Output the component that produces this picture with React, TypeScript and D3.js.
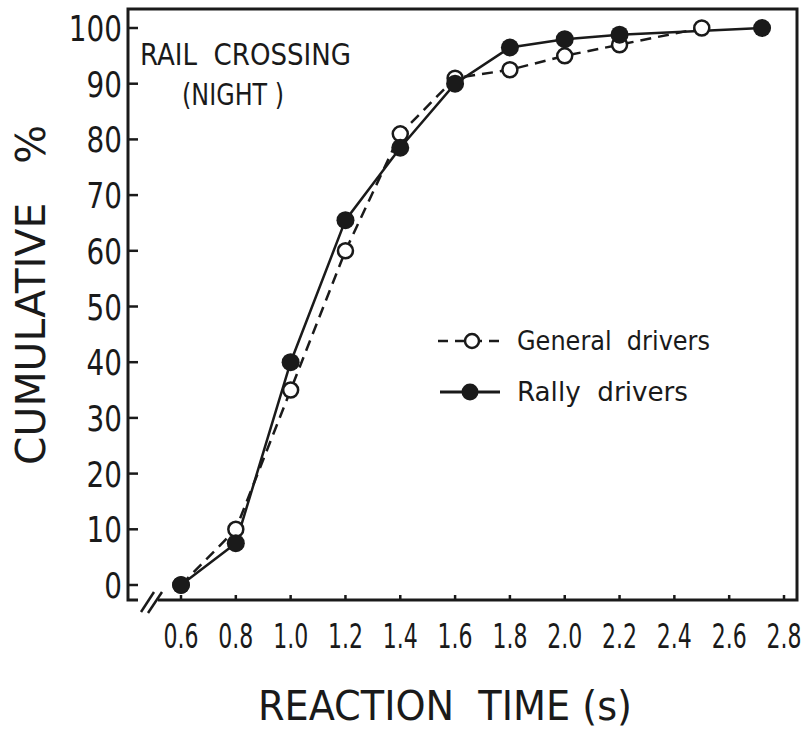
import * as d3 from "d3";
import React from "react";

// reaction time (s) and cumulative %
const generalTime = [0.6, 0.8, 1.0, 1.2, 1.4, 1.6, 1.8, 2.0, 2.2, 2.5];
const generalPct = [0, 10, 35, 60, 81, 91, 92.5, 95, 97, 100];
const rallyTime = [0.6, 0.8, 1.0, 1.2, 1.4, 1.6, 1.8, 2.0, 2.2, 2.72];
const rallyPct = [0, 7.5, 40, 65.5, 78.5, 90, 96.5, 98, 98.8, 100];

const xTicks = [0.6, 0.8, 1.0, 1.2, 1.4, 1.6, 1.8, 2.0, 2.2, 2.4, 2.6, 2.8];
const yTicks = [0, 10, 20, 30, 40, 50, 60, 70, 80, 90, 100];

const W = 802;
const H = 733;
const frame = { left: 128, top: 9, right: 797, bottom: 600 };
const font = "'DejaVu Sans Condensed', 'DejaVu Sans', sans-serif";
const ink = "#1a1a1a";

// narrow lettering: squeeze text horizontally around its anchor
const Narrow = ({ x, y, sx, size, anchor, children }: any) => (
  <text
    transform={`translate(${x},${y}) scale(${sx},1)`}
    textAnchor={anchor || "start"}
    fontSize={size}
    fill={ink}
    style={{ whiteSpace: "pre" }}
  >
    {children}
  </text>
);

export default function App() {
  const x = d3.scaleLinear().domain([0.6, 2.8]).range([181, 784]);
  const y = d3.scaleLinear().domain([0, 100]).range([585, 28]);

  const line = d3
    .line<[number, number]>()
    .x((d) => x(d[0]))
    .y((d) => y(d[1]));

  const general: [number, number][] = generalTime.map((t, i) => [t, generalPct[i]]);
  const rally: [number, number][] = rallyTime.map((t, i) => [t, rallyPct[i]]);

  return (
    <svg
      width={W}
      height={H}
      style={{ position: "absolute", left: 0, top: 0, background: "#fff" }}
      fontFamily={font}
    >
      {/* frame */}
      <rect
        x={frame.left}
        y={frame.top}
        width={frame.right - frame.left}
        height={frame.bottom - frame.top}
        fill="none"
        stroke={ink}
        strokeWidth={3}
      />
      {/* axis break */}
      <rect x={138} y={595} width={20} height={10} fill="#fff" />
      <line x1={141} y1={612} x2={154} y2={592} stroke={ink} strokeWidth={2.5} />
      <line x1={148} y1={613} x2={162} y2={592} stroke={ink} strokeWidth={2.5} />

      {/* y ticks */}
      {yTicks.map((t) => (
        <g key={"y" + t}>
          <line x1={frame.left} x2={frame.left + 10} y1={y(t)} y2={y(t)} stroke={ink} strokeWidth={2.5} />
          <Narrow x={frame.left - 6} y={y(t) + 13} sx={0.86} size={36} anchor="end">
            {t}
          </Narrow>
        </g>
      ))}
      {/* x ticks */}
      {xTicks.map((t) => (
        <g key={"x" + t}>
          <line x1={x(t)} x2={x(t)} y1={frame.bottom} y2={frame.bottom - 5} stroke={ink} strokeWidth={2.5} />
          <Narrow x={x(t)} y={648} sx={0.72} size={34} anchor="middle">
            {t.toFixed(1)}
          </Narrow>
        </g>
      ))}

      {/* axis titles */}
      <text x={258} y={720} fontSize={41} fill={ink} textLength={374} lengthAdjust="spacingAndGlyphs" style={{ whiteSpace: "pre" }}>
        {"REACTION  TIME (s)"}
      </text>
      <text
        transform="translate(45,465) rotate(-90)"
        fontSize={40}
        fill={ink}
        textLength={340}
        lengthAdjust="spacingAndGlyphs"
        style={{ whiteSpace: "pre" }}
      >
        {"CUMULATIVE   %"}
      </text>

      {/* annotation */}
      <text x={140} y={65} fontSize={30} fill={ink} textLength={211} lengthAdjust="spacingAndGlyphs" style={{ whiteSpace: "pre" }}>
        {"RAIL  CROSSING"}
      </text>
      <text x={182} y={105} fontSize={30} fill={ink} textLength={102} lengthAdjust="spacingAndGlyphs" style={{ whiteSpace: "pre" }}>
        {"(NIGHT )"}
      </text>

      {/* series */}
      <path d={line(general) || ""} fill="none" stroke={ink} strokeWidth={2.5} strokeDasharray="11 7" />
      <path d={line(rally) || ""} fill="none" stroke={ink} strokeWidth={2.5} />
      {general.map((d, i) => (
        <circle key={"g" + i} cx={x(d[0])} cy={y(d[1])} r={7.5} fill="#fff" stroke={ink} strokeWidth={2.5} />
      ))}
      {rally.map((d, i) => (
        <circle key={"r" + i} cx={x(d[0])} cy={y(d[1])} r={9} fill={ink} />
      ))}

      {/* legend */}
      <g>
        <line x1={438} x2={506} y1={341} y2={341} stroke={ink} strokeWidth={2.5} strokeDasharray="10 7" />
        <circle cx={472} cy={341} r={7} fill="#fff" stroke={ink} strokeWidth={2.5} />
        <text x={517} y={350} fontSize={26} fill={ink} textLength={193} lengthAdjust="spacingAndGlyphs" style={{ whiteSpace: "pre" }}>
          {"General  drivers"}
        </text>
        <line x1={440} x2={500} y1={392} y2={392} stroke={ink} strokeWidth={3} />
        <circle cx={470} cy={392} r={8.5} fill={ink} />
        <text x={517} y={401} fontSize={26} fill={ink} textLength={171} lengthAdjust="spacingAndGlyphs" style={{ whiteSpace: "pre" }}>
          {"Rally  drivers"}
        </text>
      </g>
    </svg>
  );
}
